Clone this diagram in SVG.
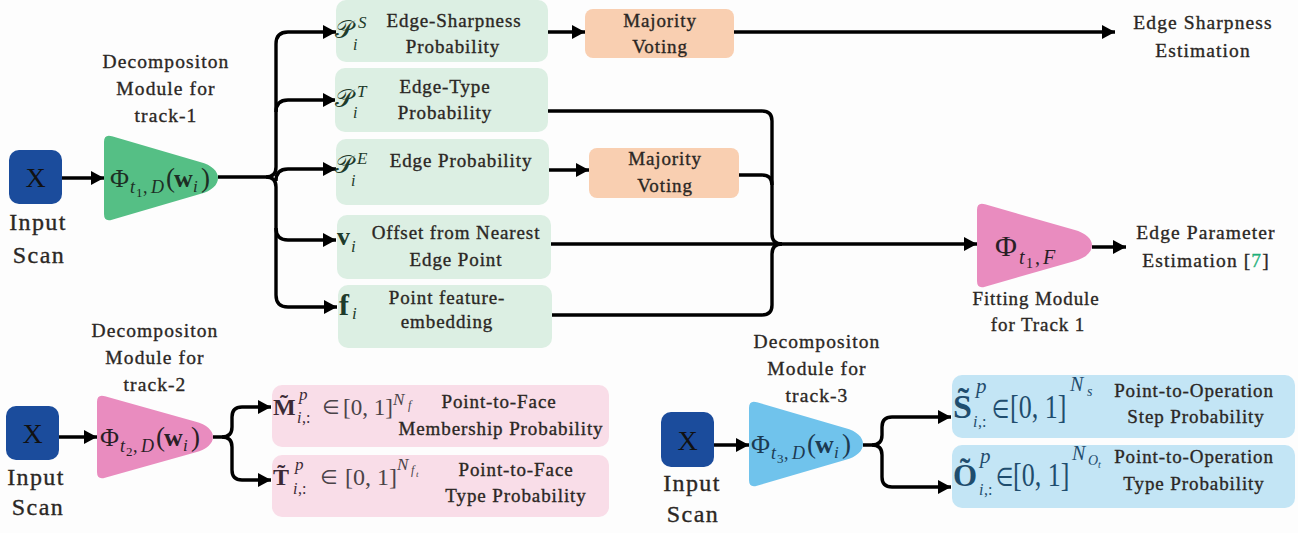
<svg xmlns="http://www.w3.org/2000/svg" width="1298" height="533" viewBox="0 0 1298 533">
<defs>
<marker id="ah" markerUnits="userSpaceOnUse" markerWidth="14" markerHeight="14" refX="13" refY="7" orient="auto"><path d="M0,0 L13,7 L0,14 Z" fill="#000"/></marker>
<style>
.t{font-family:"Liberation Serif",serif;fill:#2b2724;stroke:#2b2724;stroke-width:0.35px;text-anchor:middle;font-size:19px;letter-spacing:0.9px}
.lbl{font-size:19.5px;letter-spacing:1.1px}
.big{font-size:24px;letter-spacing:1.4px}
.m{font-family:"Liberation Serif","DejaVu Sans",serif}
.it{font-style:italic}
.bd{font-weight:bold}
.cal{font-family:"DejaVu Sans","Noto Sans",serif;font-style:normal}
.c{fill:none;stroke:#000;stroke-width:3.4}
.a{marker-end:url(#ah)}
.xb{fill:#1b4c9c}
.xt{font-family:"Liberation Serif",serif;font-size:28px;fill:#111;text-anchor:middle}
.gb{fill:#dcefe3}
.pb{fill:#f9cfb1}
.kb{fill:#f9dde8}
.bb{fill:#c3e5f5}
</style>
</defs>
<rect width="1298" height="533" fill="#fdfdfd"/>

<g id="connectors">
<path class="c a" d="M62,178 H104"/>
<path class="c a" d="M218,177 H266 Q276,177 276,167 V44 Q276,32 288,32 H336"/>
<path class="c a" d="M276,112 Q276,100 288,100 H336"/>
<path class="c a" d="M276,181 Q276,169 288,169 H336"/>
<path class="c a" d="M276,228 Q276,240 288,240 H336"/>
<path class="c a" d="M266,177 Q276,177 276,187 V295 Q276,307 288,307 H337"/>
<path class="c a" d="M548,32 H585"/>
<path class="c a" d="M549,170 H589"/>
<path class="c a" d="M734,32 H1115"/>
<path class="c" d="M548,111 H762 Q772,111 772,121 V234 Q772,244 782,244"/>
<path class="c" d="M739,175 H762 Q772,175 772,185"/>
<path class="c" d="M552,315 H762 Q772,315 772,305 V254 Q772,244 782,244"/>
<path class="c a" d="M551,244 H977"/>
<path class="c a" d="M1092,247 H1126"/>
<path class="c a" d="M59,437 H97"/>
<path class="c a" d="M213,437 H222 Q232,437 232,427 V417 Q232,407 242,407 H271"/>
<path class="c a" d="M222,437 Q232,437 232,447 V470 Q232,480 242,480 H271"/>
<path class="c a" d="M714,445 H749"/>
<path class="c a" d="M863,445 H872 Q882,445 882,435 V427 Q882,417 892,417 H951"/>
<path class="c a" d="M872,445 Q882,445 882,455 V477 Q882,487 892,487 H951"/>
</g>

<g id="input1">
<rect class="xb" x="9" y="150" width="53" height="54" rx="10"/>
<text class="xt" x="35.5" y="187">X</text>
<text class="t big" x="38" y="230">Input</text>
<text class="t big" x="39" y="263">Scan</text>
</g>

<g id="decomp1">
<text class="t lbl" x="166" y="68">Decompositon</text>
<text class="t lbl" x="166" y="95">Module for</text>
<text class="t lbl" x="166" y="122">track-1</text>
<path d="M104,142 Q104,134 112,136.3 L200,162 C224,168 224,188 200,194 L112,219.7 Q104,222 104,214 Z" fill="#55bf85"/>
<text class="m" fill="#1d2e24"><tspan x="110" y="187" font-size="26">Φ</tspan><tspan class="it" x="130" y="193" font-size="18">t</tspan><tspan x="136" y="197" font-size="13">1</tspan><tspan x="143" y="193" font-size="18">,</tspan><tspan class="it" x="151" y="193" font-size="18">D</tspan><tspan x="166" y="187" font-size="27">(</tspan><tspan class="bd" x="174" y="187" font-size="26">w</tspan><tspan class="it" x="193" y="192" font-size="17">i</tspan><tspan x="201" y="187" font-size="27">)</tspan></text>
</g>

<g id="edge-sharpness-prob">
<rect class="gb" x="336" y="0" width="212" height="62" rx="10"/>
<text class="m" fill="#1e3b2b"><tspan class="cal" x="335" y="38" font-size="25">𝒫</tspan><tspan class="it" x="358" y="28" font-size="17">S</tspan><tspan class="it" x="353" y="50" font-size="16">i</tspan></text>
<text class="t" x="454" y="27">Edge-Sharpness</text>
<text class="t" x="453" y="53">Probability</text>
</g>

<g id="edge-type-prob">
<rect class="gb" x="335" y="68" width="213" height="64" rx="10"/>
<text class="m" fill="#1e3b2b"><tspan class="cal" x="335" y="107" font-size="25">𝒫</tspan><tspan class="it" x="357" y="97" font-size="17">T</tspan><tspan class="it" x="353" y="118" font-size="16">i</tspan></text>
<text class="t" x="445" y="93">Edge-Type</text>
<text class="t" x="445" y="119">Probability</text>
</g>

<g id="edge-prob">
<rect class="gb" x="336" y="139" width="213" height="66" rx="10"/>
<text class="m" fill="#1e3b2b"><tspan class="cal" x="335" y="173" font-size="25">𝒫</tspan><tspan class="it" x="357" y="164" font-size="17">E</tspan><tspan class="it" x="351" y="186" font-size="16">i</tspan></text>
<text class="t" x="461" y="167">Edge Probability</text>
</g>

<g id="offset">
<rect class="gb" x="337" y="215" width="214" height="64" rx="10"/>
<text class="m" fill="#1e3b2b"><tspan class="bd" x="337" y="245" font-size="26">v</tspan><tspan class="it" x="351" y="252" font-size="17">i</tspan></text>
<text class="t" x="456" y="239">Offset from Nearest</text>
<text class="t" x="456" y="266">Edge Point</text>
</g>

<g id="feature">
<rect class="gb" x="338" y="285" width="214" height="63" rx="10"/>
<text class="m" fill="#1e3b2b"><tspan class="bd" x="339" y="315" font-size="30">f</tspan><tspan class="it" x="352" y="319" font-size="17">i</tspan></text>
<text class="t" x="447" y="304">Point feature-</text>
<text class="t" x="447" y="328">embedding</text>
</g>

<g id="vote1">
<rect class="pb" x="585" y="9" width="149" height="49" rx="8"/>
<text class="t" x="660" y="27">Majority</text>
<text class="t" x="660" y="53">Voting</text>
</g>

<g id="vote2">
<rect class="pb" x="589" y="148" width="150" height="50" rx="8"/>
<text class="t" x="665" y="165">Majority</text>
<text class="t" x="665" y="192">Voting</text>
</g>

<g id="sharpness-est">
<text class="t lbl" x="1203" y="29">Edge Sharpness</text>
<text class="t lbl" x="1203" y="57">Estimation</text>
</g>

<g id="fitting">
<path d="M977,210 Q977,202 985,204.3 L1074,229.8 C1098,236 1098,255 1074,261.2 L985,286.7 Q977,289 977,281 Z" fill="#e98cbf"/>
<text class="m" fill="#2a1f26"><tspan x="995" y="256" font-size="30">Φ</tspan><tspan class="it" x="1019" y="264" font-size="20">t</tspan><tspan x="1026" y="268" font-size="14">1</tspan><tspan x="1035" y="264" font-size="20">,</tspan><tspan class="it" x="1043" y="264" font-size="20">F</tspan></text>
<text class="t" x="1036" y="305">Fitting Module</text>
<text class="t" x="1038" y="331">for Track 1</text>
</g>

<g id="param-est">
<text class="t lbl" x="1206" y="239">Edge Parameter</text>
<text class="t lbl" x="1206" y="267">Estimation [<tspan fill="#1fb07a" stroke="#1fb07a">7</tspan>]</text>
</g>

<g id="input2">
<rect class="xb" x="6" y="406" width="53" height="54" rx="10"/>
<text class="xt" x="32.5" y="443">X</text>
<text class="t big" x="36" y="485">Input</text>
<text class="t big" x="38" y="515">Scan</text>
</g>

<g id="decomp2">
<text class="t lbl" x="155" y="337">Decompositon</text>
<text class="t lbl" x="155" y="364">Module for</text>
<text class="t lbl" x="155" y="391">track-2</text>
<path d="M97,402 Q97,394 105,396.3 L195,421.5 C219,427.5 219,446.5 195,452.5 L105,477.7 Q97,480 97,472 Z" fill="#e98cbf"/>
<g transform="translate(-10,259)">
<text class="m" fill="#2a1f26"><tspan x="110" y="187" font-size="26">Φ</tspan><tspan class="it" x="130" y="193" font-size="18">t</tspan><tspan x="136" y="197" font-size="13">2</tspan><tspan x="143" y="193" font-size="18">,</tspan><tspan class="it" x="151" y="193" font-size="18">D</tspan><tspan x="166" y="187" font-size="27">(</tspan><tspan class="bd" x="174" y="187" font-size="26">w</tspan><tspan class="it" x="193" y="192" font-size="17">i</tspan><tspan x="201" y="187" font-size="27">)</tspan></text>
</g>
</g>

<g id="face-membership">
<rect class="kb" x="272" y="385" width="337" height="62" rx="10"/>
<text class="m" fill="#3b2a35"><tspan class="bd" x="273" y="415" font-size="24">M̃</tspan><tspan class="it" x="299" y="400" font-size="17">p</tspan><tspan class="it" x="297" y="423" font-size="16">i</tspan><tspan x="302" y="423" font-size="16">,:</tspan><tspan x="322" y="414" font-size="20" fill="#4a4448">∈</tspan><tspan x="343" y="415" font-size="23" fill="#4a4448">[0, 1]</tspan><tspan class="it" x="393" y="405" font-size="17" fill="#4a4448">N</tspan><tspan class="it" x="408" y="409" font-size="12" fill="#4a4448">f</tspan></text>
<text class="t" x="499" y="408">Point-to-Face</text>
<text class="t" x="501" y="435">Membership Probability</text>
</g>

<g id="face-type">
<rect class="kb" x="272" y="455" width="337" height="62" rx="10"/>
<text class="m" fill="#3b2a35"><tspan class="bd" x="273" y="485" font-size="24">T̃</tspan><tspan class="it" x="295" y="470" font-size="17">p</tspan><tspan class="it" x="293" y="494" font-size="16">i</tspan><tspan x="298" y="494" font-size="16">,:</tspan><tspan x="320" y="484" font-size="20" fill="#4a4448">∈</tspan><tspan x="345" y="485" font-size="24" fill="#4a4448">[0, 1]</tspan><tspan class="it" x="397" y="470" font-size="17" fill="#4a4448">N</tspan><tspan class="it" x="411" y="474" font-size="12" fill="#4a4448">f</tspan><tspan class="it" x="416" y="477" font-size="9" fill="#4a4448">t</tspan></text>
<text class="t" x="516" y="476">Point-to-Face</text>
<text class="t" x="516" y="502">Type Probability</text>
</g>

<g id="input3">
<rect class="xb" x="661" y="412" width="53" height="55" rx="10"/>
<text class="xt" x="687.5" y="450">X</text>
<text class="t big" x="692" y="491">Input</text>
<text class="t big" x="693" y="522">Scan</text>
</g>

<g id="decomp3">
<text class="t lbl" x="817" y="348">Decompositon</text>
<text class="t lbl" x="817" y="375">Module for</text>
<text class="t lbl" x="817" y="402">track-3</text>
<path d="M749,408 Q749,400 757,402.3 L845,428 C869,434 869,454 845,460 L757,485.7 Q749,488 749,480 Z" fill="#70c3ec"/>
<g transform="translate(641,266)">
<text class="m" fill="#1c3a52"><tspan x="110" y="187" font-size="26">Φ</tspan><tspan class="it" x="130" y="193" font-size="18">t</tspan><tspan x="136" y="197" font-size="13">3</tspan><tspan x="143" y="193" font-size="18">,</tspan><tspan class="it" x="151" y="193" font-size="18">D</tspan><tspan x="166" y="187" font-size="27">(</tspan><tspan class="bd" x="174" y="187" font-size="26">w</tspan><tspan class="it" x="193" y="192" font-size="17">i</tspan><tspan x="201" y="187" font-size="27">)</tspan></text>
</g>
</g>

<g id="op-step">
<rect class="bb" x="952" y="375" width="343" height="63" rx="10"/>
<text class="m" fill="#1f4d6e"><tspan class="bd" x="953" y="418" font-size="34">S̃</tspan><tspan class="it" x="976" y="393" font-size="21">p</tspan><tspan class="it" x="973" y="427" font-size="16">i</tspan><tspan x="978" y="427" font-size="16">,:</tspan></text>
<text class="m" fill="#1f4d6e" transform="translate(992,418) scale(1,1.3)" font-size="20">∈</text>
<text class="m" fill="#1f4d6e" transform="translate(1010,418) scale(1,1.3)" font-size="26">[0, 1]</text>
<text class="m" fill="#1f4d6e"><tspan class="it" x="1070" y="391" font-size="20">N</tspan><tspan class="it" x="1087" y="396" font-size="14">s</tspan></text>
<text class="t" x="1194" y="397">Point-to-Operation</text>
<text class="t" x="1196" y="423">Step Probability</text>
</g>

<g id="op-type">
<rect class="bb" x="952" y="445" width="343" height="63" rx="10"/>
<text class="m" fill="#1f4d6e"><tspan class="bd" x="953" y="486" font-size="31">Õ</tspan><tspan class="it" x="980" y="463" font-size="21">p</tspan><tspan class="it" x="979" y="495" font-size="16">i</tspan><tspan x="984" y="495" font-size="16">,:</tspan></text>
<text class="m" fill="#1f4d6e" transform="translate(996,486) scale(1,1.3)" font-size="20">∈</text>
<text class="m" fill="#1f4d6e" transform="translate(1013,486) scale(1,1.3)" font-size="26">[0, 1]</text>
<text class="m" fill="#1f4d6e"><tspan class="it" x="1072" y="460" font-size="20">N</tspan><tspan class="it" x="1088" y="465" font-size="14">O</tspan><tspan class="it" x="1098" y="468" font-size="10">t</tspan></text>
<text class="t" x="1194" y="463">Point-to-Operation</text>
<text class="t" x="1194" y="490">Type Probability</text>
</g>
</svg>
